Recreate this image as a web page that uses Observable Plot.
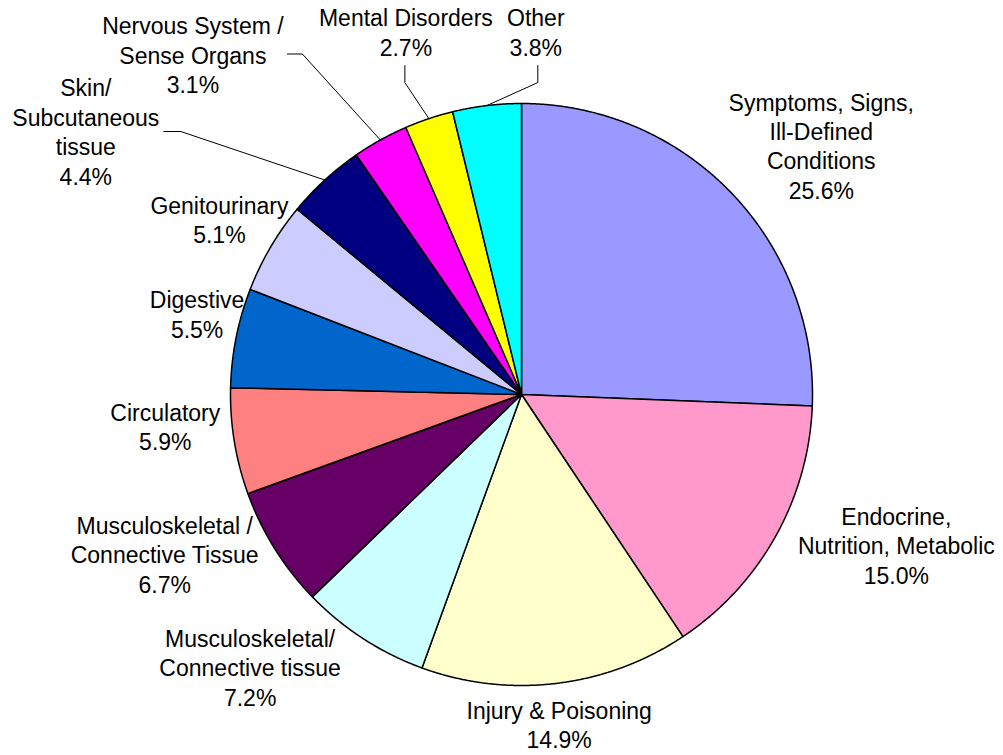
<!DOCTYPE html>
<html><head><meta charset="utf-8">
<script src="https://cdn.jsdelivr.net/npm/d3@7"></script>
<script src="https://cdn.jsdelivr.net/npm/@observablehq/plot@0.6"></script>
<style>html,body{margin:0;padding:0;background:#fff;}</style>
</head><body><div id="chart"></div>
<script>
// ---- data ----
const categories = [
  "Symptoms, Signs,\nIll-Defined\nConditions",
  "Endocrine,\nNutrition, Metabolic",
  "Injury & Poisoning",
  "Musculoskeletal/\nConnective tissue",
  "Musculoskeletal /\nConnective Tissue",
  "Circulatory",
  "Digestive",
  "Genitourinary",
  "Skin/\nSubcutaneous\ntissue",
  "Nervous System /\nSense Organs",
  "Mental Disorders",
  "Other"
];
const percents = [25.6, 15.0, 14.9, 7.2, 6.7, 5.9, 5.5, 5.1, 4.4, 3.1, 2.7, 3.8];
const colors = ["#9999FF","#FF99CC","#FFFFCC","#CCFFFF","#660066","#FF8080","#0066CC","#CCCCFF","#000080","#FF00FF","#FFFF00","#00FFFF"];

// ---- layout ----
const W = 1003, H = 755, CX = 521, CY = 394, R = 291; // pie centre / radius in px
// label offset (px) from slice arc midpoint to centre of label's last baseline
const labelOffset = [[90,6],[121,47],[3,65],[-113,67],[-110,44],[-69,9],[-39,0],[-51,-4],[-239,4.5],[-187.5,-47],[-23,-63],[49,-50]];
// leader line bend points (px offsets from arc midpoint)
const leaderBends = {8: [[-161,-48.5],[-144,-48.5]], 9: [[-93,-86],[-78,-86]], 10: [[-24,-53],[-24,-36]], 11: [[51,-40],[51,-23]]};

const data = categories.map((c, i) => ({name: c, value: percents[i], color: colors[i]}));
const arcs = d3.pie().sort(null).value(d => d.value)(data);

const slices = [];
const step = Math.PI / 900;
arcs.forEach(a => {
  const nm = a.data.name, col = a.data.color;
  slices.push({name: nm, color: col, x: 0, y: 0});
  for (let t = a.startAngle; t < a.endAngle; t += step) slices.push({name: nm, color: col, x: Math.sin(t), y: Math.cos(t)});
  slices.push({name: nm, color: col, x: Math.sin(a.endAngle), y: Math.cos(a.endAngle)});
  slices.push({name: nm, color: col, x: 0, y: 0});
});

const labels = arcs.map((a, i) => {
  const m = (a.startAngle + a.endAngle) / 2;
  const [dx, dy] = labelOffset[i];
  return {x: Math.sin(m) + dx / R, y: Math.cos(m) - dy / R,
          text: a.data.name + "\n" + a.data.value.toFixed(1) + "%"};
});

const leaders = [];
arcs.forEach((a, i) => {
  if (!leaderBends[i]) return;
  const m = (a.startAngle + a.endAngle) / 2;
  const mx = Math.sin(m), my = Math.cos(m);
  leaderBends[i].forEach(([dx, dy]) => leaders.push({k: i, x: mx + dx / R, y: my - dy / R}));
  leaders.push({k: i, x: mx, y: my});
});

const chart = Plot.plot({
  width: W, height: H, margin: 0,
  style: {background: "#fff", fontFamily: "'Liberation Sans', Arial, sans-serif"},
  x: {domain: [-CX / R, (W - CX) / R], axis: null},
  y: {domain: [-(H - CY) / R, CY / R], axis: null},
  marks: [
    Plot.line(slices, {x: "x", y: "y", z: "name", fill: "color", stroke: "#000", strokeWidth: 1.5, curve: "linear", strokeLinejoin: "round"}),
    Plot.line(leaders, {x: "x", y: "y", z: "k", stroke: "#000", strokeWidth: 1, curve: "linear"}),
    Plot.text(labels, {x: "x", y: "y", text: "text", fontSize: 23, lineAnchor: "bottom", lineHeight: 1.28, textAnchor: "middle", fill: "#000", fontFamily: "'Liberation Sans', Arial, sans-serif"})
  ]
});
document.getElementById("chart").appendChild(chart);
</script>
</body></html>
